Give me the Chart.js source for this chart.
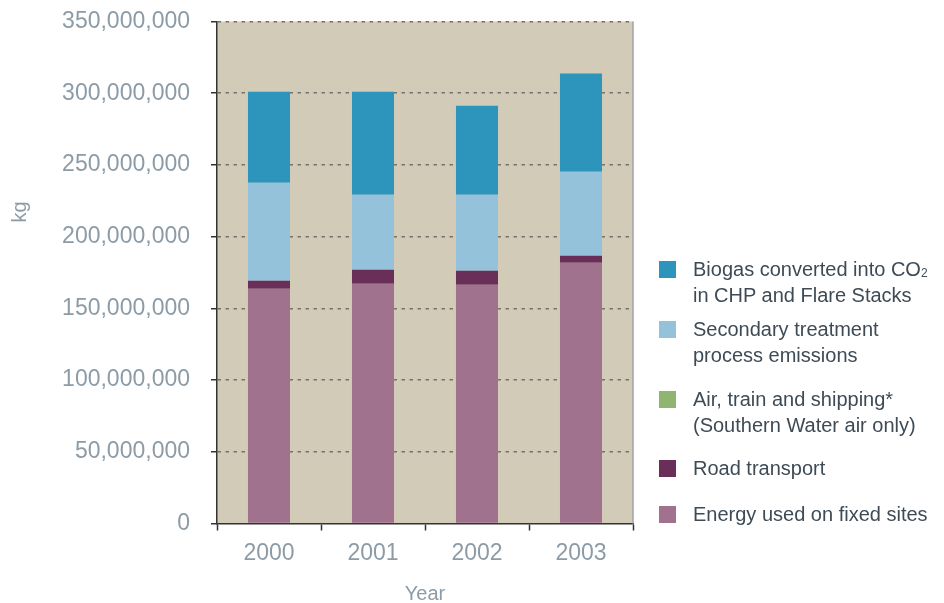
<!DOCTYPE html>
<html lang="en">
<head>
  <meta charset="UTF-8">
  <title>CO2 emissions by source</title>
  <script src="https://cdn.jsdelivr.net/npm/chart.js"></script>
  <style>
    * { margin: 0; padding: 0; box-sizing: border-box; }
    body { background: #fff; font-family: 'Liberation Sans', Arial, sans-serif; }
    .wrap { position: relative; width: 944px; height: 603px; }
    .legend { position: absolute; left: 0; top: 0; }
    .item {
      position: absolute;
      left: 659px;
      padding-left: 34px;
      font-size: 20px;
      line-height: 26px;
      color: #3e4b56;
      white-space: nowrap;
    }
    .item .box {
      position: absolute;
      left: 0;
      top: 5px;
      width: 17px;
      height: 17px;
    }
    .item sub { font-size: 12px; line-height: 0; vertical-align: baseline; position: relative; top: 1px; }
  </style>
</head>
<body>
  <div class="wrap">
    <canvas id="chart"></canvas>
    <div class="legend" id="legend"></div>
  </div>

  <script>
    // values in kg
    const years = ['2000', '2001', '2002', '2003'];
    const energySites = [163.6e6, 167.1e6, 166.4e6, 181.8e6];
    const roadTransport = [5.6e6, 9.8e6, 9.8e6, 4.9e6];
    const airTrainShip = [0, 0, 0, 0];
    const secondaryTreatment = [68.4e6, 52.3e6, 53.0e6, 58.6e6];
    const biogas = [63.5e6, 71.8e6, 62.1e6, 68.4e6];
    const yTicks = [0, 50e6, 100e6, 150e6, 200e6, 250e6, 300e6, 350e6];

    const series = [
      { label: 'Energy used on fixed sites', data: energySites, color: '#a0728e' },
      { label: 'Road transport', data: roadTransport, color: '#6a2f58' },
      { label: 'Air, train and shipping*<br>(Southern Water air only)', data: airTrainShip, color: '#8fb56f' },
      { label: 'Secondary treatment<br>process emissions', data: secondaryTreatment, color: '#93c2da' },
      { label: 'Biogas converted into CO<sub>2</sub><br>in CHP and Flare Stacks', data: biogas, color: '#2d95bb' }
    ];

    const tickColor = '#8c9ba6';
    const fontFamily = '"Liberation Sans", Arial, sans-serif';

    const plotBg = {
      id: 'plotBg',
      beforeDraw(chart) {
        const { ctx, chartArea: a } = chart;
        ctx.save();
        ctx.fillStyle = '#d2cbb8';
        ctx.fillRect(a.left, a.top, a.right - a.left, a.bottom - a.top);
        ctx.restore();
      },
      afterDraw(chart) {
        const { ctx, chartArea: a } = chart;
        ctx.save();
        ctx.strokeStyle = '#a4a2ab';
        ctx.lineWidth = 1.5;
        ctx.beginPath();
        ctx.moveTo(a.right, a.top);
        ctx.lineTo(a.right, a.bottom);
        ctx.stroke();
        // y axis title sits above the middle
        ctx.translate(20, 212);
        ctx.rotate(-Math.PI / 2);
        ctx.fillStyle = tickColor;
        ctx.font = '20px ' + fontFamily;
        ctx.textAlign = 'center';
        ctx.textBaseline = 'middle';
        ctx.fillText('kg', 0, 0);
        ctx.restore();
      }
    };

    new Chart(document.getElementById('chart'), {
      type: 'bar',
      data: {
        labels: years,
        datasets: series.map(s => ({
          label: s.label,
          data: s.data,
          backgroundColor: s.color,
          borderWidth: 0,
          categoryPercentage: 1,
          barPercentage: 0.404
        }))
      },
      options: {
        responsive: true,
        maintainAspectRatio: false,
        animation: false,
        layout: { padding: { top: 21.5, right: 311, left: 0, bottom: 0 } },
        plugins: {
          legend: { display: false },
          tooltip: { enabled: false }
        },
        scales: {
          x: {
            stacked: true,
            offset: true,
            afterFit(scale) { scale.height = 79.5; scale.paddingLeft = 0; scale.paddingRight = 0; },
            grid: {
              offset: true,
              drawOnChartArea: false,
              tickLength: 7,
              tickColor: '#333',
              tickWidth: 1.5
            },
            border: { color: '#333', width: 1.5 },
            ticks: {
              color: tickColor,
              font: { size: 23, family: fontFamily },
              padding: 9
            },
            title: {
              display: true,
              text: 'Year',
              color: tickColor,
              font: { size: 20, family: fontFamily },
              padding: { top: 0, bottom: -3 }
            }
          },
          y: {
            stacked: true,
            min: 0,
            max: 350e6,
            afterFit(scale) { scale.width = 217; scale.paddingTop = 0; scale.paddingBottom = 0; },
            afterBuildTicks(scale) { scale.ticks = yTicks.map(v => ({ value: v })); },
            grid: {
              color: c => (c.tick && c.tick.value === 0) ? 'rgba(0,0,0,0)' : '#77716a',
              lineWidth: 1.5,
              tickLength: 6,
              tickColor: '#333',
              tickWidth: 1.5,
              tickBorderDash: []
            },
            border: { color: '#333', width: 1.5, dash: [3.5, 4.5] },
            ticks: {
              color: tickColor,
              font: { size: 23, family: fontFamily },
              padding: 21,
              callback: v => v.toLocaleString('en-US')
            }
          }
        }
      },
      plugins: [plotBg]
    });

    // html legend, top to bottom in reverse stacking order
    const tops = [501, 455, 386, 316, 256];
    const legendEl = document.getElementById('legend');
    series.forEach((s, i) => {
      const div = document.createElement('div');
      div.className = 'item';
      div.style.top = tops[i] + 'px';
      div.innerHTML = '<span class="box" style="background:' + s.color + '"></span>' + s.label;
      legendEl.appendChild(div);
    });
  </script>
</body>
</html>
